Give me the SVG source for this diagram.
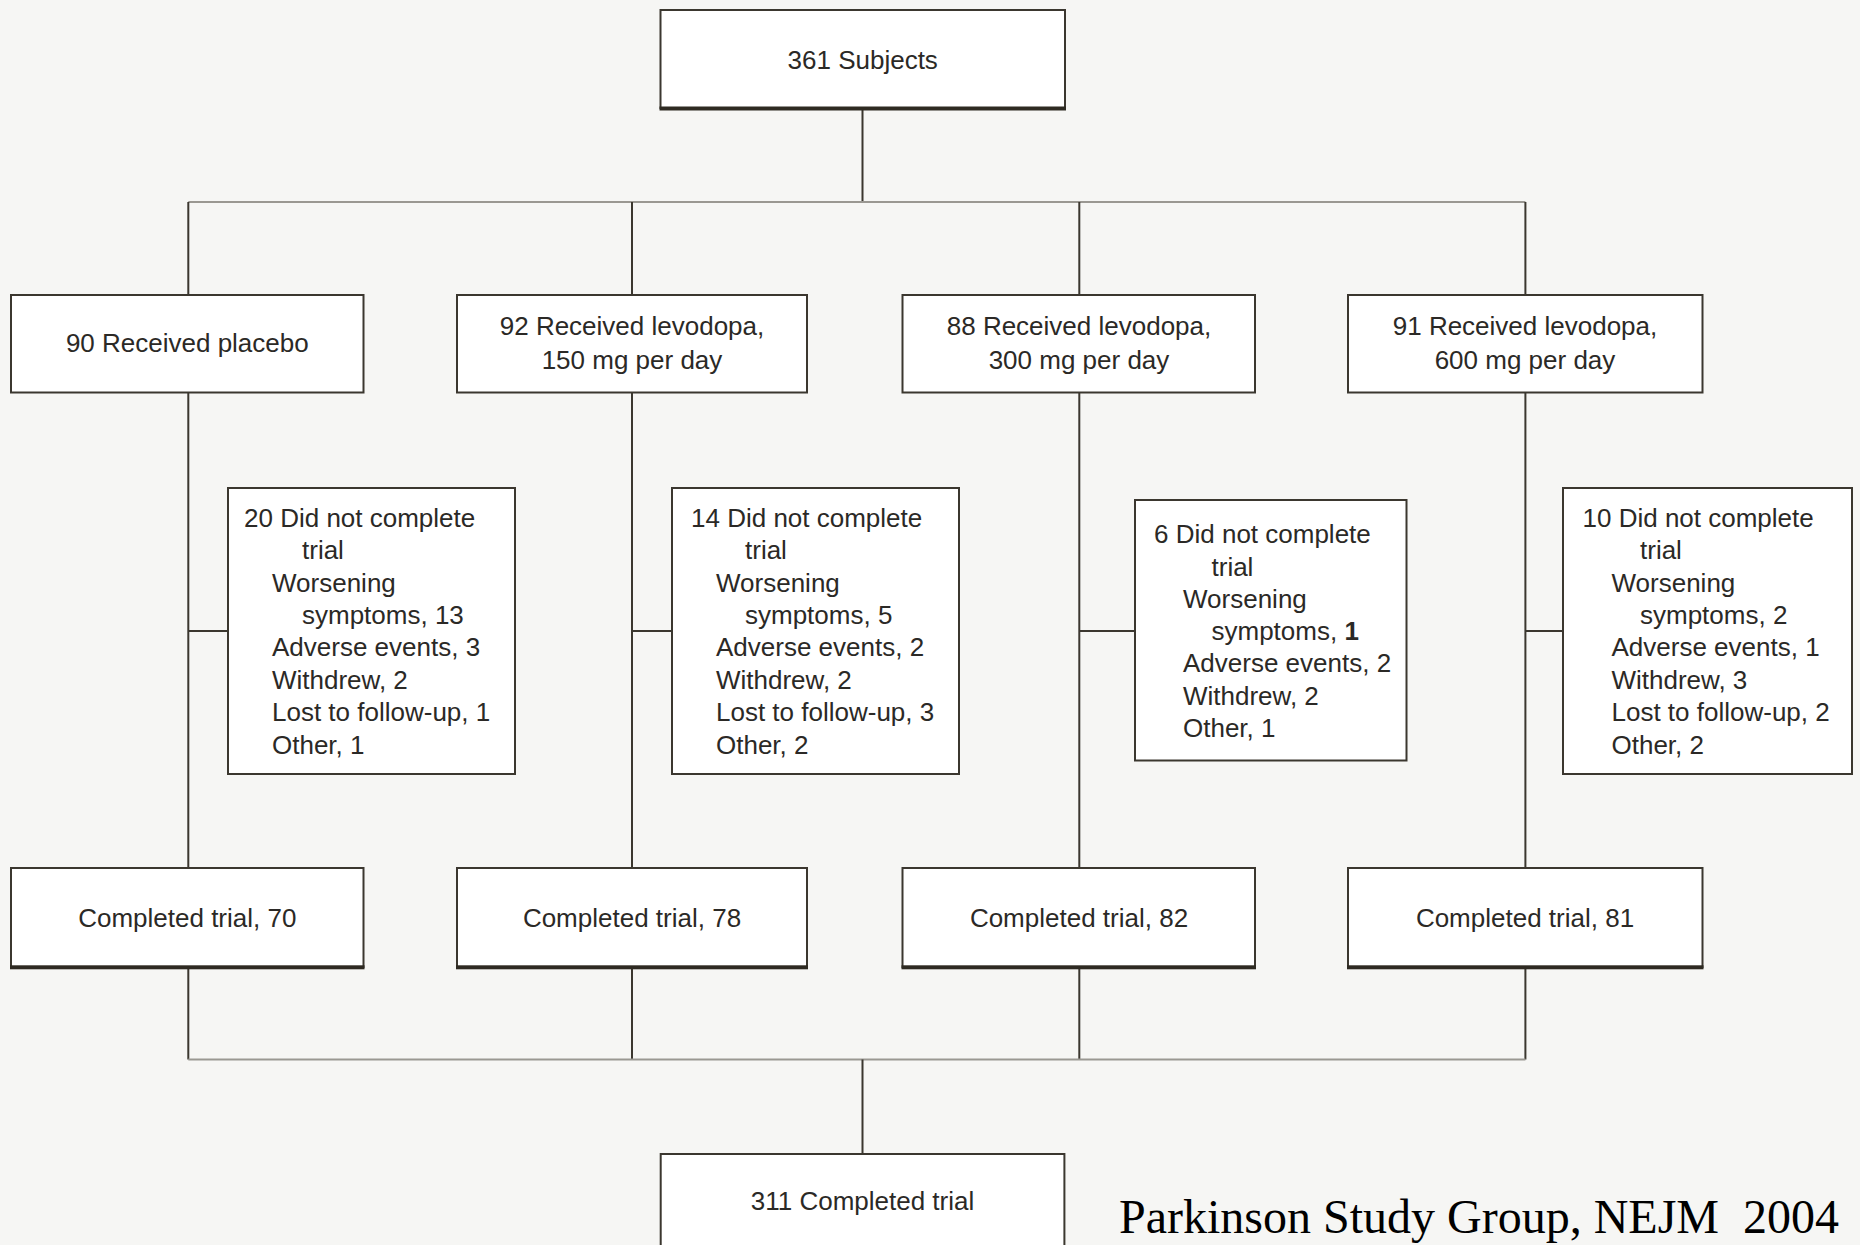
<svg xmlns="http://www.w3.org/2000/svg" width="1860" height="1245" viewBox="0 0 1860 1245">
<style>
.bg{fill:#f6f6f4}
.box{fill:#ffffff;stroke:#3b372f;stroke-width:2}
.shadow{fill:#2e2a22}
.ln{stroke:#3b372f;stroke-width:2;fill:none}
.hl{stroke:#9a9892;stroke-width:2;fill:none}
text{font-family:"Liberation Sans",Arial,sans-serif;font-size:26px;fill:#2b2926}
.c{text-anchor:middle}
.cap{font-family:"Liberation Serif","Times New Roman",serif;font-size:48px;fill:#000000}
</style>
<rect class="bg" x="0" y="0" width="1860" height="1245"/>

<g id="connectors">
  <line class="ln" x1="862.5" y1="109" x2="862.5" y2="202"/>
  <line class="hl" x1="188.3" y1="202" x2="1525.4" y2="202"/>
  <line class="ln" x1="188.3" y1="202" x2="188.3" y2="295"/>
  <line class="ln" x1="632" y1="202" x2="632" y2="295"/>
  <line class="ln" x1="1079.3" y1="202" x2="1079.3" y2="295"/>
  <line class="ln" x1="1525.4" y1="202" x2="1525.4" y2="295"/>
  <line class="ln" x1="188.3" y1="392.5" x2="188.3" y2="868"/>
  <line class="ln" x1="632" y1="392.5" x2="632" y2="868"/>
  <line class="ln" x1="1079.3" y1="392.5" x2="1079.3" y2="868"/>
  <line class="ln" x1="1525.4" y1="392.5" x2="1525.4" y2="868"/>
  <line class="ln" x1="188.3" y1="631" x2="228" y2="631"/>
  <line class="ln" x1="632" y1="631" x2="672" y2="631"/>
  <line class="ln" x1="1079.3" y1="631" x2="1135" y2="631"/>
  <line class="ln" x1="1525.4" y1="631" x2="1563" y2="631"/>
  <line class="ln" x1="188.3" y1="969" x2="188.3" y2="1059.5"/>
  <line class="ln" x1="632" y1="969" x2="632" y2="1059.5"/>
  <line class="ln" x1="1079.3" y1="969" x2="1079.3" y2="1059.5"/>
  <line class="ln" x1="1525.4" y1="969" x2="1525.4" y2="1059.5"/>
  <line class="hl" x1="188.3" y1="1059.5" x2="1525.4" y2="1059.5"/>
  <line class="ln" x1="862.5" y1="1059.5" x2="862.5" y2="1154"/>
</g>

<g id="n-subjects">
  <rect class="box" x="660.5" y="10" width="404.5" height="98"/>
  <rect class="shadow" x="659.5" y="106.5" width="406.5" height="4"/>
  <text class="c" x="862.7" y="69.3">361 Subjects</text>
</g>

<g id="n-placebo">
  <rect class="box" x="11" y="295" width="352.5" height="97.5"/>
  <text class="c" x="187.3" y="351.7">90 Received placebo</text>
</g>
<g id="n-ldopa150">
  <rect class="box" x="457" y="295" width="350" height="97.5"/>
  <text class="c" x="632" y="335">92 Received levodopa,</text>
  <text class="c" x="632" y="369">150 mg per day</text>
</g>
<g id="n-ldopa300">
  <rect class="box" x="902.5" y="295" width="352.5" height="97.5"/>
  <text class="c" x="1079" y="335">88 Received levodopa,</text>
  <text class="c" x="1079" y="369">300 mg per day</text>
</g>
<g id="n-ldopa600">
  <rect class="box" x="1348" y="295" width="354.5" height="97.5"/>
  <text class="c" x="1525" y="335">91 Received levodopa,</text>
  <text class="c" x="1525" y="369">600 mg per day</text>
</g>

<g id="n-drop-placebo">
  <rect class="box" x="228" y="488" width="287" height="286"/>
  <text x="244" y="526.7">20 Did not complete</text>
  <text x="302" y="559">trial</text>
  <text x="272" y="591.5">Worsening</text>
  <text x="302" y="624">symptoms, 13</text>
  <text x="272" y="656">Adverse events, 3</text>
  <text x="272" y="688.5">Withdrew, 2</text>
  <text x="272" y="721">Lost to follow-up, 1</text>
  <text x="272" y="753.5">Other, 1</text>
</g>
<g id="n-drop-150">
  <rect class="box" x="672" y="488" width="287" height="286"/>
  <text x="691" y="526.7">14 Did not complete</text>
  <text x="745" y="559">trial</text>
  <text x="716" y="591.5">Worsening</text>
  <text x="745" y="624">symptoms, 5</text>
  <text x="716" y="656">Adverse events, 2</text>
  <text x="716" y="688.5">Withdrew, 2</text>
  <text x="716" y="721">Lost to follow-up, 3</text>
  <text x="716" y="753.5">Other, 2</text>
</g>
<g id="n-drop-300">
  <rect class="box" x="1135" y="500" width="271.5" height="260.5"/>
  <text x="1154" y="543.3">6 Did not complete</text>
  <text x="1211.5" y="575.5">trial</text>
  <text x="1183" y="607.5">Worsening</text>
  <text x="1211.5" y="640">symptoms, <tspan font-weight="bold">1</tspan></text>
  <text x="1183" y="672">Adverse events, 2</text>
  <text x="1183" y="704.5">Withdrew, 2</text>
  <text x="1183" y="736.7">Other, 1</text>
</g>
<g id="n-drop-600">
  <rect class="box" x="1563" y="488" width="289" height="286"/>
  <text x="1582.5" y="526.7">10 Did not complete</text>
  <text x="1640" y="559">trial</text>
  <text x="1611.5" y="591.5">Worsening</text>
  <text x="1640" y="624">symptoms, 2</text>
  <text x="1611.5" y="656">Adverse events, 1</text>
  <text x="1611.5" y="688.5">Withdrew, 3</text>
  <text x="1611.5" y="721">Lost to follow-up, 2</text>
  <text x="1611.5" y="753.5">Other, 2</text>
</g>

<g id="n-comp-placebo">
  <rect class="box" x="11" y="868" width="352.5" height="99"/>
  <rect class="shadow" x="10" y="965.3" width="354.5" height="4"/>
  <text class="c" x="187.3" y="926.7">Completed trial, 70</text>
</g>
<g id="n-comp-150">
  <rect class="box" x="457" y="868" width="350" height="99"/>
  <rect class="shadow" x="456" y="965.3" width="352" height="4"/>
  <text class="c" x="632" y="926.7">Completed trial, 78</text>
</g>
<g id="n-comp-300">
  <rect class="box" x="902.5" y="868" width="352.5" height="99"/>
  <rect class="shadow" x="901.5" y="965.3" width="354.5" height="4"/>
  <text class="c" x="1079" y="926.7">Completed trial, 82</text>
</g>
<g id="n-comp-600">
  <rect class="box" x="1348" y="868" width="354.5" height="99"/>
  <rect class="shadow" x="1347" y="965.3" width="356.5" height="4"/>
  <text class="c" x="1525" y="926.7">Completed trial, 81</text>
</g>

<g id="n-completed-total">
  <rect class="box" x="660.7" y="1154" width="403.7" height="120"/>
  <text class="c" x="862.5" y="1210">311 Completed trial</text>
</g>

<text class="cap" x="1119" y="1233">Parkinson Study Group, NEJM<tspan x="1743">2004</tspan></text>
</svg>
